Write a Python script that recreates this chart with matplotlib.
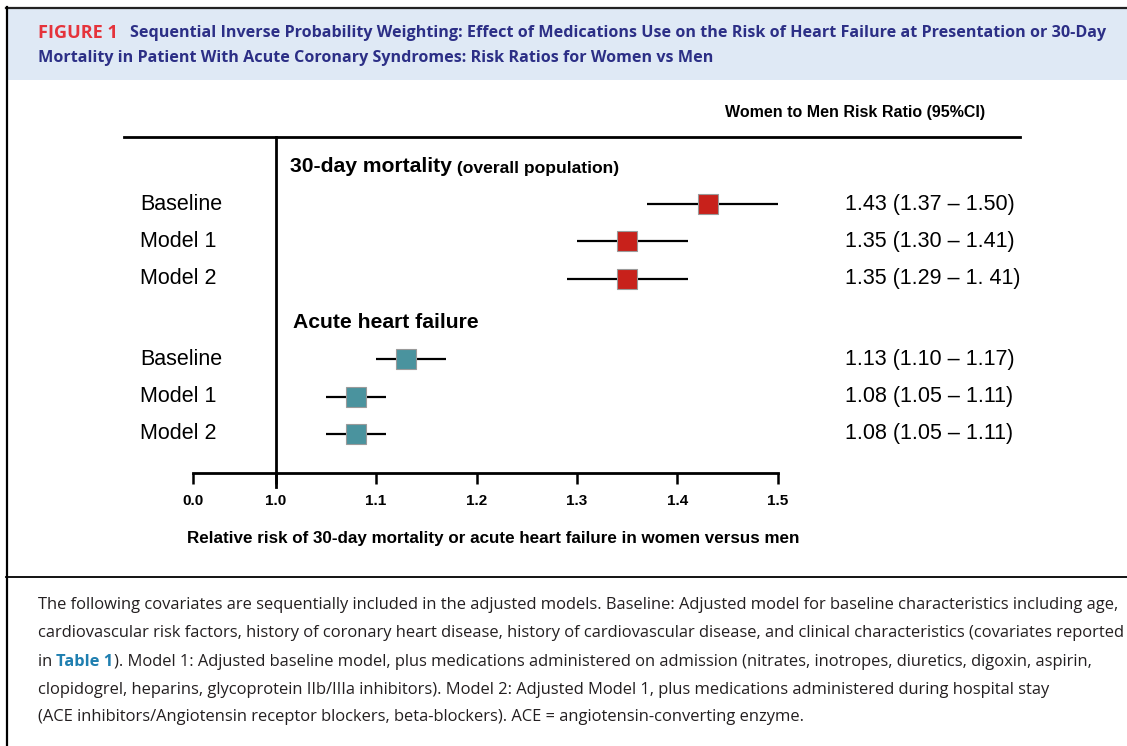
import matplotlib
matplotlib.use("Agg")
import matplotlib.pyplot as plt
from matplotlib.transforms import blended_transform_factory
from matplotlib.patches import Rectangle
from matplotlib.lines import Line2D

# ---------------- data ----------------
groups = ["30-day mortality", "Acute heart failure"]
group_notes = ["(overall population)", ""]
models = ["Baseline", "Model 1", "Model 2"]
mort_rr = [1.43, 1.35, 1.35]
mort_lo = [1.37, 1.30, 1.29]
mort_hi = [1.50, 1.41, 1.41]
mort_txt = ["1.43 (1.37 \u2013 1.50)", "1.35 (1.30 \u2013 1.41)", "1.35 (1.29 \u2013 1. 41)"]
ahf_rr = [1.13, 1.08, 1.08]
ahf_lo = [1.10, 1.05, 1.05]
ahf_hi = [1.17, 1.11, 1.11]
ahf_txt = ["1.13 (1.10 \u2013 1.17)", "1.08 (1.05 \u2013 1.11)", "1.08 (1.05 \u2013 1.11)"]
tick_vals = [0.918, 1.0, 1.1, 1.2, 1.3, 1.4, 1.5]
tick_labels = ["0.0", "1.0", "1.1", "1.2", "1.3", "1.4", "1.5"]

title_tag = "FIGURE 1"
title_line1 = "Sequential Inverse Probability Weighting: Effect of Medications Use on the Risk of Heart Failure at Presentation or 30-Day"
title_line2 = "Mortality in Patient With Acute Coronary Syndromes: Risk Ratios for Women vs Men"
col_header = "Women to Men Risk Ratio (95%CI)"
x_label = "Relative risk of 30-day mortality or acute heart failure in women versus men"
caption = [
    ["The following covariates are sequentially included in the adjusted models. Baseline: Adjusted model for baseline characteristics including age,"],
    ["cardiovascular risk factors, history of coronary heart disease, history of cardiovascular disease, and clinical characteristics (covariates reported"],
    ["in ", "Table 1", "). Model 1: Adjusted baseline model, plus medications administered on admission (nitrates, inotropes, diuretics, digoxin, aspirin,"],
    ["clopidogrel, heparins, glycoprotein IIb/IIIa inhibitors). Model 2: Adjusted Model 1, plus medications administered during hospital stay"],
    ["(ACE inhibitors/Angiotensin receptor blockers, beta-blockers). ACE = angiotensin-converting enzyme."],
]

# ---------------- style ----------------
W, H = 1127, 746
RED = "#c8211b"
TEAL = "#4a939e"
FIG_RED = "#e5333b"
NAVY = "#2c2f86"
BAND = "#dfe9f5"
LINK = "#1f7fb0"
CHART_FONT = ["Liberation Sans", "DejaVu Sans"]
TEXT_FONT = ["Open Sans", "DejaVu Sans"]

fig = plt.figure(figsize=(W / 100, H / 100), dpi=100)
renderer = fig.canvas.get_renderer()


def fx(px):
    return px / W


def fy(py):
    return 1 - py / H


def width_px(t):
    return t.get_window_extent(renderer=renderer).width


def fit(t, target):
    fs = t.get_fontsize()
    t.set_fontsize(fs * target / width_px(t))
    return t.get_fontsize()


# frame and title band
fig.add_artist(Rectangle((fx(7), fy(80)), 1 - fx(7), (80 - 9) / H, transform=fig.transFigure,
                         facecolor=BAND, edgecolor="none", zorder=0))
fig.add_artist(Line2D([fx(6), 1], [fy(7.5), fy(7.5)], transform=fig.transFigure, color="#222222", lw=1.6))
fig.add_artist(Line2D([fx(6.5), fx(6.5)], [fy(7), 0], transform=fig.transFigure, color="black", lw=1.6))
fig.add_artist(Line2D([fx(6), 1], [fy(577), fy(577)], transform=fig.transFigure, color="black", lw=1.3))

# title
tag = fig.text(fx(38), fy(33), title_tag, color=FIG_RED, fontweight="bold", family=TEXT_FONT,
               fontsize=11, va="center", ha="left")
fit(tag, 80)
t1 = fig.text(fx(130), fy(33), title_line1, color=NAVY, fontweight="bold", family=TEXT_FONT,
              fontsize=11, va="center", ha="left")
fs_title = fit(t1, 970)
fig.text(fx(38), fy(58), title_line2, color=NAVY, fontweight="bold", family=TEXT_FONT,
         fontsize=fs_title, va="center", ha="left")

# ---------------- forest plot axes ----------------
ax_left, ax_right, ax_top, ax_bot = 124, 1020, 137, 473
ax = fig.add_axes([fx(ax_left), fy(ax_bot), (ax_right - ax_left) / W, (ax_bot - ax_top) / H])
px_per_unit = 1005.0
one_px = 275.5
ax.set_xlim(1 + (ax_left - one_px) / px_per_unit, 1 + (ax_right - one_px) / px_per_unit)
row0, row_step, group_gap = 167.0, 37.2, 0.17
ax.set_ylim((ax_bot - row0) / row_step, (ax_top - row0) / row_step)

for s in ["left", "right"]:
    ax.spines[s].set_visible(False)
ax.spines["top"].set_linewidth(2.0)
ax.spines["bottom"].set_linewidth(2.0)
ax.spines["bottom"].set_bounds(tick_vals[0], tick_vals[-1])
ax.set_yticks([])
ax.set_xticks(tick_vals)
ax.set_xticklabels(tick_labels, fontweight="bold", family=CHART_FONT, fontsize=11)
ax.tick_params(axis="x", direction="out", length=8, width=1.8, pad=7)
ax.set_facecolor("none")

ax.axvline(1.0, ymin=-0.042, ymax=1, color="black", lw=2.0, clip_on=False, zorder=2)

ytr = blended_transform_factory(ax.transAxes, ax.transData)
lab_x = (140 - ax_left) / (ax_right - ax_left)
val_x = (845 - ax_left) / (ax_right - ax_left)
hdr_x = [(290 - ax_left) / (ax_right - ax_left), (293 - ax_left) / (ax_right - ax_left)]

series = [
    (mort_rr, mort_lo, mort_hi, mort_txt, RED),
    (ahf_rr, ahf_lo, ahf_hi, ahf_txt, TEAL),
]
row = 0.0
for g, (rr, lo, hi, txt, col) in enumerate(series):
    row += group_gap * (g > 0)
    h = ax.text(hdr_x[g], row, groups[g], transform=ytr, fontweight="bold", family=CHART_FONT,
                fontsize=15.2, va="center", ha="left")
    if group_notes[g]:
        ax.annotate(" " + group_notes[g], xy=(1, 0), xycoords=h, fontweight="bold",
                    family=CHART_FONT, fontsize=12.6, va="bottom", ha="left")
    row += 1
    for i in range(len(models)):
        ax.plot([lo[i], hi[i]], [row, row], color="black", lw=1.6, zorder=3, solid_capstyle="butt")
        ax.plot(rr[i], row, marker="s", markersize=14.5, markerfacecolor=col,
                markeredgecolor="#9a9a9a", markeredgewidth=0.8, zorder=4, linestyle="none")
        ax.text(lab_x, row, models[i], transform=ytr, family=CHART_FONT, fontsize=15.5,
                va="center", ha="left")
        ax.text(val_x, row, txt[i], transform=ytr, family=CHART_FONT, fontsize=15.5,
                va="center", ha="left")
        row += 1

fig.text(fx(855), fy(113), col_header, fontweight="bold", family=CHART_FONT, fontsize=11.5,
         va="center", ha="center")
xl = fig.text(fx(493), fy(539), x_label, fontweight="bold", family=CHART_FONT, fontsize=11.5,
              va="center", ha="center")
fit(xl, 614)

# ---------------- caption ----------------
cap_y = [605, 633, 662, 690, 717]
probe = fig.text(fx(38), fy(cap_y[0]), caption[0][0], family=TEXT_FONT, fontsize=11,
                 va="center", ha="left", color="#231f20")
fs_cap = fit(probe, 1084)
for li, parts in enumerate(caption[1:], start=1):
    x = fx(38)
    for pi, part in enumerate(parts):
        is_link = (len(parts) > 1 and pi == 1)
        t = fig.text(x, fy(cap_y[li]), part, family=TEXT_FONT, fontsize=fs_cap, va="center",
                     ha="left", color=LINK if is_link else "#231f20",
                     fontweight="bold" if is_link else "normal")
        x += width_px(t) / W

fig.savefig("out.png", dpi=100)
